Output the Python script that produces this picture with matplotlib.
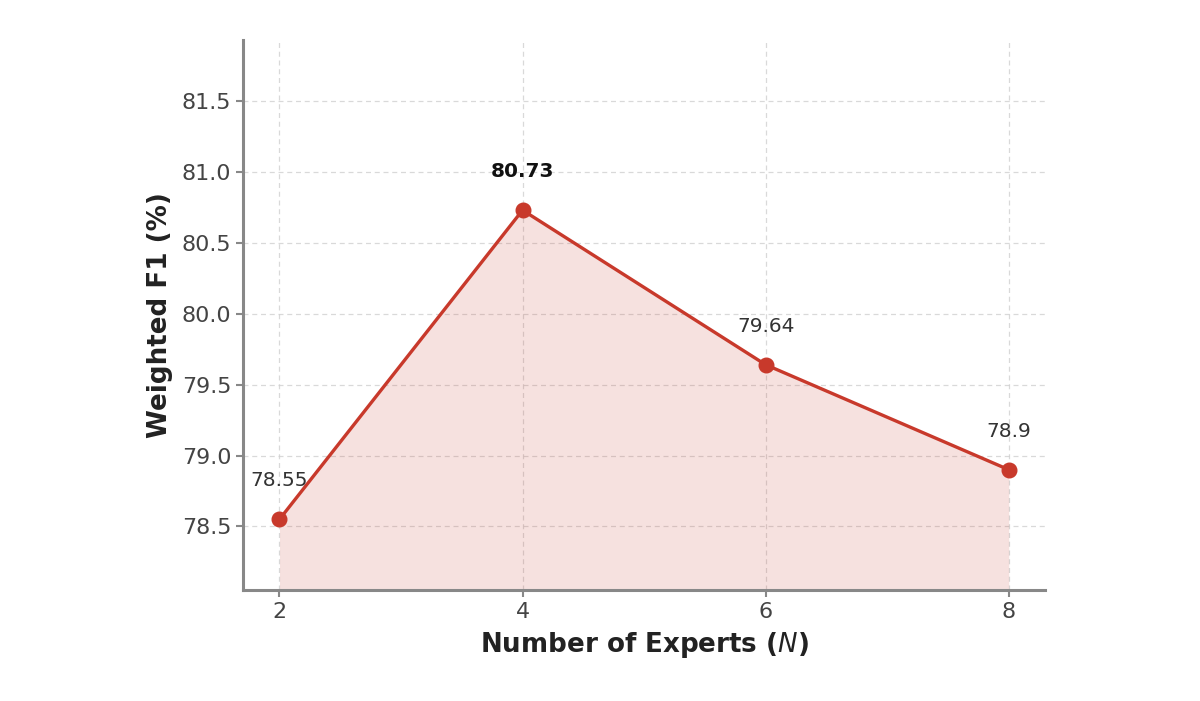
import numpy as np
import matplotlib
matplotlib.use('Agg')
import matplotlib.pyplot as plt

# data
n_experts = [2, 4, 6, 8]
weighted_f1 = [78.55, 80.73, 79.64, 78.9]
point_labels = ['78.55', '80.73', '79.64', '78.9']
best_idx = 1

line_color = '#c8392b'

fig = plt.figure(figsize=(12, 7.01), dpi=100)
ax = fig.add_axes([0.2025, 0.158, 0.6685, 0.785])

y_lo = min(weighted_f1) - 0.5
y_hi = max(weighted_f1) + 1.2

ax.fill_between(n_experts, weighted_f1, y_lo, color=line_color, alpha=0.15, linewidth=0)
ax.plot(n_experts, weighted_f1, '-o', color=line_color, linewidth=2.4, markersize=10.5, zorder=3)

for i, (x, v) in enumerate(zip(n_experts, weighted_f1)):
    bold = i == best_idx
    ax.annotate(point_labels[i], (x, v), xytext=(0, 21), textcoords='offset points',
                ha='center', va='bottom', fontsize=14.5,
                fontweight='bold' if bold else 'normal',
                color='#111111' if bold else '#333333')

ax.set_xlim(1.7, 8.3)
ax.set_ylim(y_lo, y_hi)
ax.set_xticks(n_experts)
ax.set_yticks([78.5, 79.0, 79.5, 80.0, 80.5, 81.0, 81.5])
ax.set_yticklabels(['78.5', '79.0', '79.5', '80.0', '80.5', '81.0', '81.5'])
ax.tick_params(labelsize=16, colors='#888888', labelcolor='#444444', width=1.5, length=5)

ax.grid(True, linestyle=(0, (4, 3)), color='#d0d0d0', linewidth=0.9, alpha=0.8)
ax.set_axisbelow(True)
for s in ['top', 'right']:
    ax.spines[s].set_visible(False)
for s in ['left', 'bottom']:
    ax.spines[s].set_color('#888888')
    ax.spines[s].set_linewidth(2.2)

ax.set_xlabel('Number of Experts ($\\it{N}$)', fontsize=18.8, fontweight='bold', color='#222222', labelpad=6)
ax.set_ylabel('Weighted F1 (%)', fontsize=18.8, fontweight='bold', color='#222222', labelpad=6)

plt.savefig('out.png', dpi=100)
plt.close()
